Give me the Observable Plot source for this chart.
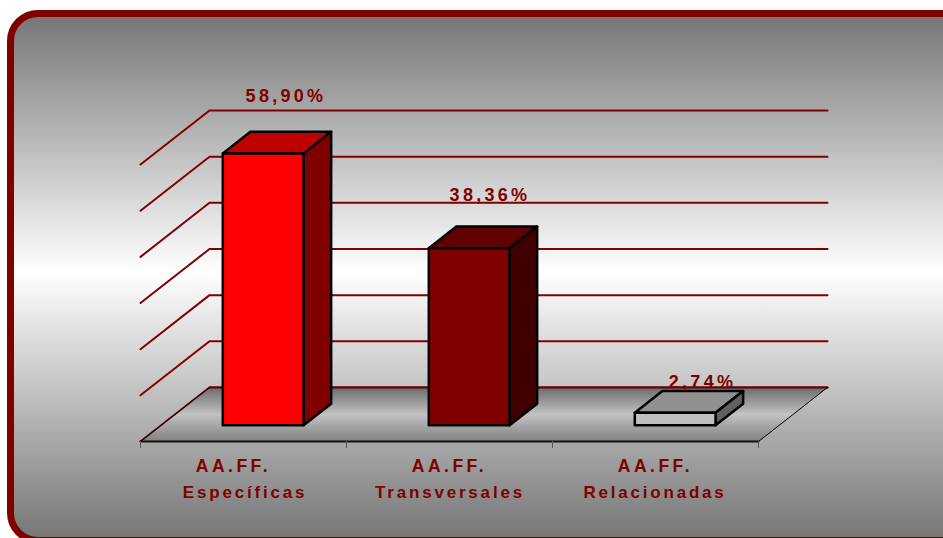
<!DOCTYPE html>
<html lang="es">
<head>
<meta charset="utf-8">
<script src="https://cdn.jsdelivr.net/npm/d3@7"></script>
<script src="https://cdn.jsdelivr.net/npm/@observablehq/plot@0.6"></script>
<style>
html,body{margin:0;padding:0;background:#fff;overflow:hidden;width:943px;height:538px}
#panel{position:absolute;left:7px;top:10px;width:1000px;height:534px;box-sizing:border-box;border:7px solid #800000;border-radius:31px;background:linear-gradient(#777 0%,#fff 49%,#777 100%)}
#chart{position:absolute;left:0;top:0}
svg{display:block}
g[font-size="18"]{letter-spacing:3.3px}
g[font-size="17"]{letter-spacing:2.8px}
g[font-size="17.5"]{letter-spacing:3.5px}
</style>
</head>
<body>
<div id="panel"></div>
<div id="chart"></div>
<script>
const categories = ["Específicas", "Transversales", "Relacionadas"];
const categoryPrefix = ["AA.FF.", "AA.FF.", "AA.FF."];
const values = [58.90, 38.36, 2.74];
const valueLabels = ["58,90%", "38,36%", "2,74%"];
const gridValues = [0, 10, 20, 30, 40, 50, 60];
const frontColors = ["#ff0000", "#800000", "#c0c0c0"];
const topColors = ["#bf0000", "#600000", "#909090"];
const sideColors = ["#800000", "#400000", "#606060"];

// oblique projection, expressed in data units
const depthX = 0.335, depthY = 11.7;
const barWidth = 0.392, barCentre = 0.495, depthFront = 0.30, depthBack = 0.70;
const px = (i, d) => i + d * depthX;
const py = (v, d) => v + d * depthY;
const P = (i, v, d) => ({x: px(i, d), y: py(v, d)});

const floorPts = [P(0,0,0), P(3,0,0), P(3,0,1), P(0,0,1)];

const gridPts = gridValues.flatMap(v => [
  {...P(0, v, 0), v}, {...P(0, v, 1), v}, {...P(3, v, 1), v}
]);

const faces = values.flatMap((v, i) => {
  const a = i + barCentre - barWidth / 2, b = a + barWidth;
  const F = depthFront, B = depthBack;
  const face = (name, fill, pts) => pts.map(p => ({...p, k: i + name, fill}));
  return [
    ...face("top", topColors[i], [P(a,v,F), P(b,v,F), P(b,v,B), P(a,v,B)]),
    ...face("side", sideColors[i], [P(b,0,F), P(b,v,F), P(b,v,B), P(b,0,B)]),
    ...face("front", frontColors[i], [P(a,0,F), P(b,0,F), P(b,v,F), P(a,v,F)])
  ];
});

const labelNudge = [{dx: 42.5, dy: -73}, {dx: 40.5, dy: -69}, {dx: 47, dy: -47}];
const firstLineShift = [-10, 0, 0];
const secondLineShift = [1.5, 0.5, -0.5];
const textStyle = {fill: "#800000", fontWeight: "bold", fontFamily: "'Liberation Sans', Arial, sans-serif"};

const plot = Plot.plot({
  width: 943, height: 538,
  marginLeft: 140, marginRight: 116, marginTop: 110, marginBottom: 97,
  x: {domain: [0, 3 + depthX], axis: null},
  y: {domain: [0, 60 + depthY], axis: null},
  color: {type: "identity"},
  style: {background: "transparent", overflow: "visible"},
  marks: [
    () => {
      const defs = d3.create("svg:defs");
      const g = defs.append("linearGradient").attr("id", "floorGrad").attr("x1", 0).attr("x2", 0).attr("y1", 0).attr("y2", 1);
      [[0, "#6c6c6c"], [0.5, "#c2c2c2"], [1, "#808080"]].forEach(([o, c]) => g.append("stop").attr("offset", o).attr("stop-color", c));
      return defs.node();
    },
    Plot.line(gridPts, {x: "x", y: "y", z: "v", stroke: "#800000", strokeWidth: 2}),
    Plot.line(floorPts, {x: "x", y: "y", curve: "linear-closed", fill: "url(#floorGrad)", stroke: "none"}),
    Plot.line([P(0,0,0), P(0,0,1)], {x: "x", y: "y", stroke: "#300000", strokeWidth: 1.5}),
    Plot.line([P(0,0,1), P(3,0,1)], {x: "x", y: "y", stroke: "#600000", strokeWidth: 2}),
    Plot.line([P(3,0,0), P(3,0,1)], {x: "x", y: "y", stroke: "#000", strokeWidth: 1}),
    Plot.line([P(0,0,0), P(3,0,0)], {x: "x", y: "y", stroke: "#111", strokeWidth: 2}),
    Plot.axisX({ticks: [0, 1, 2, 3], tickSize: 7, tickFormat: () => "", label: null, stroke: "#555", marginBottom: 97}),
    Plot.line(faces, {x: "x", y: "y", z: "k", fill: "fill", stroke: "#000", strokeWidth: 2.5, curve: "linear-closed", strokeLinejoin: "round"}),
    ...values.map((v, i) => Plot.text([valueLabels[i]], {
      x: () => i + 0.5, y: () => v, text: d => d, dx: labelNudge[i].dx, dy: labelNudge[i].dy,
      fontSize: 18, ...textStyle
    })),
    ...categories.map((c, i) => Plot.text([categoryPrefix[i]], {
      x: () => i + 0.5, y: () => 0, text: d => d, dx: firstLineShift[i], dy: 24.6,
      fontSize: 17.5, ...textStyle
    })),
    ...categories.map((c, i) => Plot.text([c], {
      x: () => i + 0.5, y: () => 0, text: d => d, dx: secondLineShift[i], dy: 50.6,
      fontSize: 17, ...textStyle
    }))
  ]
});
document.getElementById("chart").append(plot);
</script>
</body>
</html>
